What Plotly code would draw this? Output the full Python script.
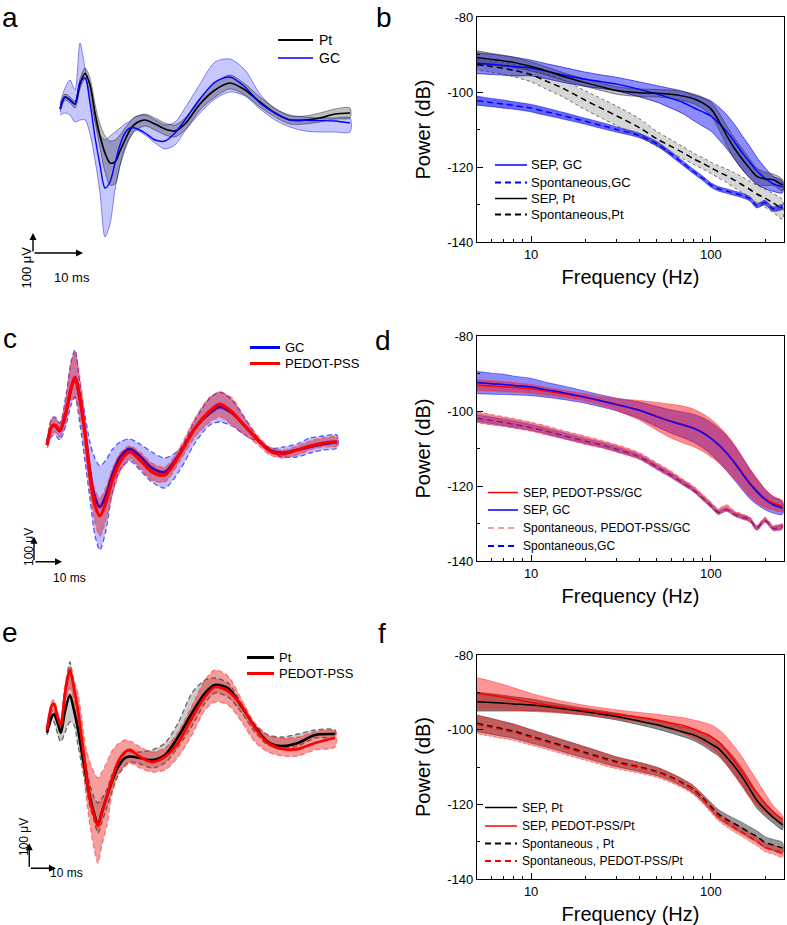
import math
import plotly.graph_objects as go

W, H = 787, 925
FONT = "Liberation Sans, Arial, sans-serif"

# ---------------- panel a : SEP waveforms, Pt vs GC (t in ms, v in uV)
t_a = [0, 1, 2, 3, 4, 5, 6, 7, 8, 9, 10, 11, 12, 13, 14, 15, 17, 19, 21, 23, 25, 28, 31, 34,
       37, 40, 43, 46, 49, 52, 55, 58]
pt_a = [0, 60, 45, 25, 125, 178, 120, -20, -135, -220, -270, -265, -210, -155, -105, -75,
        -55, -75, -100, -110, -75, 25, 95, 130, 95, 35, -20, -55, -55, -45, -25, -20]
pt_a_hi = [15, 75, 60, 40, 150, 205, 155, 25, -75, -135, -160, -155, -130, -95, -65, -40,
           -25, -45, -70, -80, -45, 55, 130, 170, 125, 60, 5, -35, -35, -20, 0, 5]
pt_a_lo = [-15, 45, 30, 5, 100, 150, 80, -65, -195, -315, -380, -375, -285, -205, -145, -110,
           -85, -105, -130, -140, -105, -5, 60, 100, 70, 10, -40, -75, -75, -65, -50, -45]
gc_a = [0, 60, 45, 25, 135, 155, 30, -140, -280, -395, -365, -270, -180, -120, -95, -95,
        -120, -155, -160, -120, -55, 50, 135, 160, 110, 30, -20, -55, -57, -58, -60, -70]
gc_a_hi = [28, 105, 145, 95, 330, 205, 55, -55, -130, -155, -135, -115, -95, -75, -60, -40,
           -30, -55, -80, -65, 5, 125, 235, 250, 195, 75, 0, -30, -40, -45, -45, -45]
gc_a_lo = [-30, -20, -30, -65, -55, -55, -125, -255, -420, -640, -575, -405, -280, -190, -140, -105,
           -130, -170, -200, -180, -110, -20, 50, 85, 65, 0, -55, -90, -110, -115, -115, -115]

# ---------------- panel c : GC vs PEDOT-PSS
t_c = [0, 1.8, 2.9, 4.6, 6.8, 8.6, 10, 11.8, 13.6, 15.4, 17.1, 18.9, 21.1, 23.2, 26.1, 29.6,
       33.2, 37.5, 42.1, 47.5, 52.9, 58.2, 61.8, 66.1, 70.7, 75.4, 79.6, 84.3, 89.3, 93.9, 98.6, 103.6]
gc_c = [-8, 68, 68, 48, 120, 216, 260, 172, 40, -116, -216, -256, -208, -132, -56, -24,
        -52, -100, -116, -40, 60, 120, 144, 120, 68, 12, -28, -40, -28, -16, -4, 4]
gc_c_hi = [8, 100, 104, 80, 192, 324, 372, 232, 112, 0, -60, -92, -68, -28, 4, 16,
           -4, -36, -60, -24, 92, 180, 204, 172, 100, 20, -20, -16, -4, 20, 28, 32]
gc_c_lo = [-20, 28, 32, 12, 72, 152, 184, 72, -76, -228, -368, -428, -348, -208, -108, -72,
           -108, -156, -180, -108, 0, 72, 84, 68, 32, 4, -36, -56, -56, -40, -28, -20]
pedot_c = [-8, 68, 72, 52, 124, 220, 264, 180, 40, -136, -248, -292, -236, -156, -76, -36,
           -68, -116, -128, -44, 60, 128, 156, 124, 68, 12, -32, -44, -28, -12, 0, 6]
pedot_c_hi = [12, 100, 100, 80, 180, 324, 364, 260, 92, -76, -188, -220, -176, -108, -40, -12,
              -36, -80, -96, -16, 100, 184, 204, 180, 100, 28, -16, -28, -12, 8, 20, 24]
pedot_c_lo = [-24, 36, 44, 24, 84, 172, 176, 100, -28, -196, -316, -372, -308, -212, -116, -64,
              -100, -148, -156, -72, 24, 84, 104, 72, 32, -8, -48, -60, -48, -28, -16, -12]

# ---------------- panel e : Pt vs PEDOT-PSS
t_e = [0, 1.9, 2.6, 4.1, 5.2, 6.7, 8.6, 10.1, 11.6, 13.1, 14.6, 16.1, 17.6, 19.1, 20.6, 22.5,
       24.3, 26.6, 29.2, 31.1, 34.8, 39.3, 44.2, 49.1, 54.3, 59.2, 62.9, 67.8, 73, 77.9, 82.8,
       88, 94, 100.4, 107.9]
pt_e = [-7, 60, 68, 28, -7, 76, 144, 84, 8, -88, -176, -263, -328, -376, -324, -260, -204,
        -144, -108, -102, -108, -116, -96, -24, 72, 152, 184, 172, 96, 16, -44, -60, -48, -16, -12]
pt_e_hi = [4, 80, 84, 44, 16, 164, 276, 184, 68, -36, -132, -216, -264, -288, -268, -232, -176,
           -124, -92, -83, -84, -76, -48, 32, 152, 204, 212, 192, 108, 24, -16, -24, -12, 4, 4]
pt_e_lo = [-16, 40, 36, -16, -43, -8, 36, 24, -56, -140, -220, -303, -356, -408, -364, -304, -244,
           -180, -140, -124, -132, -148, -128, -64, 20, 112, 152, 136, 72, -4, -56, -68, -60, -28, -24]
pedot_e = [4, 104, 108, 52, 24, 144, 244, 172, 84, -36, -156, -276, -336, -380, -324, -260, -196,
           -124, -84, -76, -103, -124, -103, -48, 52, 137, 176, 160, 100, 12, -48, -72, -72, -48, -28]
pedot_e_hi = [16, 120, 124, 72, 44, 184, 256, 204, 152, 44, -68, -124, -164, -188, -164, -124, -80,
              -52, -36, -40, -63, -84, -68, -4, 100, 204, 244, 220, 124, 32, -16, -28, -24, -3, 1]
pedot_e_lo = [-8, 84, 84, 24, 4, 104, 172, 124, 12, -116, -256, -376, -468, -528, -456, -376, -256,
              -176, -140, -128, -148, -164, -156, -104, -16, 84, 116, 104, 36, -44, -84, -100, -100, -76, -64]

# ---------------- power spectra (dB), mean and s.d.
freq = [5, 6, 7, 8, 10, 12, 15, 20, 25, 30, 40, 50, 60, 70, 80, 90, 100, 110, 122, 135, 150,
        165, 180, 200, 222, 250]

b_sep_gc = [-92.3, -92.6, -92.9, -93.2, -93.6, -94.4, -95.4, -96.6, -97.3, -97.9, -99.3, -100.5,
            -101.7, -102.8, -104.2, -105.3, -106.4, -108.2, -110.5, -113.2, -116.3, -118.8, -121.0,
            -123.0, -124.5, -125.3]
b_sep_gc_sd = [2.8, 2.7, 2.6, 2.5, 2.1, 2.0, 2.0, 1.9, 1.8, 1.8, 2.0, 2.2, 2.6, 3.0, 3.4, 3.8, 4.0,
               4.3, 4.5, 4.6, 4.5, 4.2, 3.6, 2.8, 2.0, 1.6]
b_spont_gc = [-102.3, -102.8, -103.2, -103.6, -104.3, -105.2, -106.3, -107.8, -109.0, -110.0, -111.6,
              -113.8, -116.5, -119.0, -121.2, -123.0, -124.8, -125.8, -126.4, -127.0, -127.6, -128.5,
              -130.3, -129.5, -131.2, -130.6]
b_spont_gc_sd = [1.2, 1.1, 1.1, 1.0, 1.0, 1.0, 0.9, 0.8, 0.8, 0.7, 0.6, 0.6, 0.6, 0.6, 0.6, 0.6, 0.6,
                 0.6, 0.6, 0.6, 0.6, 0.6, 0.6, 0.6, 0.6, 0.6]
b_sep_pt = [-90.8, -91.3, -91.7, -92.1, -93.2, -94.3, -95.8, -97.5, -98.7, -99.6, -100.2, -100.3,
            -100.6, -101.1, -101.8, -102.9, -104.5, -107.5, -111.5, -115.0, -118.0, -120.5, -122.5,
            -123.2, -123.4, -124.8]
b_sep_pt_sd = [1.8, 1.6, 1.5, 1.4, 1.2, 1.1, 1.0, 1.0, 1.0, 1.0, 1.0, 1.0, 1.1, 1.2, 1.3, 1.5, 1.8,
               2.2, 2.6, 2.8, 2.8, 2.5, 2.2, 1.8, 1.5, 1.5]
b_spont_pt = [-92.7, -93.2, -93.7, -94.2, -95.4, -97.0, -99.0, -102.2, -104.5, -106.4, -109.5, -112.5,
              -114.5, -116.2, -117.8, -119.0, -120.2, -121.3, -122.3, -123.5, -124.8, -126.0, -127.2,
              -128.3, -129.6, -131.3]
b_spont_pt_sd = [1.5, 1.5, 1.6, 1.7, 1.9, 2.1, 2.3, 2.5, 2.6, 2.6, 2.4, 2.0, 1.8, 1.6, 1.5, 1.5, 1.5,
                 1.6, 1.8, 2.0, 2.1, 2.2, 2.3, 2.4, 2.5, 2.6]

d_sep_pedot = [-93.1, -93.3, -93.5, -93.7, -94.1, -94.7, -95.4, -96.4, -97.4, -98.3, -99.8, -101.4,
               -102.7, -103.6, -104.5, -105.7, -107.2, -108.8, -111.0, -113.5, -116.5, -119.2, -121.2,
               -123.3, -124.6, -125.4]
d_sep_pedot_sd = [1.5, 1.4, 1.4, 1.3, 1.2, 1.1, 1.0, 1.0, 1.2, 1.6, 2.6, 3.7, 4.5, 4.9, 5.0, 5.0, 5.0,
                  4.9, 4.8, 4.6, 4.2, 3.8, 3.3, 2.5, 1.8, 1.5]
d_sep_gc = [-92.4, -92.7, -92.9, -93.2, -93.6, -94.3, -95.1, -96.3, -97.4, -98.3, -99.8, -101.5,
            -102.8, -103.7, -104.6, -105.8, -107.3, -109.0, -111.2, -113.8, -116.8, -119.5, -121.5,
            -123.6, -125.0, -125.9]
d_sep_gc_sd = [3.0, 2.8, 2.7, 2.5, 2.3, 2.0, 1.8, 1.6, 1.6, 1.7, 2.2, 2.7, 3.1, 3.4, 3.7, 4.0, 4.2,
               4.5, 4.7, 4.6, 4.3, 3.9, 3.4, 2.7, 2.2, 1.7]
d_spont_pedot = [-101.7, -102.3, -102.8, -103.3, -104.2, -105.1, -106.3, -107.8, -108.9, -110.0,
                 -112.0, -114.7, -116.9, -119.0, -120.8, -123.0, -125.0, -126.8, -125.8, -127.3,
                 -128.2, -129.0, -131.2, -129.0, -131.2, -130.8]
d_spont_pedot_sd = [1.4, 1.4, 1.3, 1.3, 1.2, 1.2, 1.1, 1.1, 1.0, 1.0, 0.9, 0.9, 0.9, 0.8, 0.8, 0.8,
                    0.8, 0.8, 0.8, 0.7, 0.7, 0.7, 0.7, 0.7, 0.7, 0.7]
d_spont_gc = [-101.9, -102.5, -103.0, -103.5, -104.4, -105.3, -106.5, -108.0, -109.1, -110.2, -112.2,
              -114.9, -117.1, -119.2, -121.0, -123.2, -125.2, -127.0, -126.3, -127.5, -128.3, -129.0,
              -131.2, -129.2, -131.3, -130.8]
d_spont_gc_sd = [0.9, 0.9, 0.9, 0.9, 0.8, 0.8, 0.8, 0.7, 0.7, 0.7, 0.6, 0.6, 0.6, 0.6, 0.5, 0.5, 0.5,
                 0.5, 0.5, 0.5, 0.5, 0.5, 0.5, 0.5, 0.5, 0.5]

f_sep_pt = [-92.5, -92.7, -92.9, -93.1, -93.4, -93.8, -94.4, -95.2, -95.9, -96.5, -97.7, -98.7, -99.7,
            -100.6, -101.4, -102.5, -103.8, -105.0, -107.3, -109.8, -112.8, -116.0, -118.9, -121.4,
            -123.5, -125.5]
f_sep_pt_sd = [2.5, 2.3, 2.1, 1.9, 1.6, 1.3, 1.1, 0.9, 0.9, 0.9, 1.0, 1.1, 1.2, 1.3, 1.5, 1.7, 1.9,
               2.0, 2.1, 2.2, 2.2, 2.2, 2.1, 1.8, 1.5, 1.3]
f_sep_pedot = [-90.3, -90.8, -91.3, -91.8, -92.7, -93.3, -94.0, -94.8, -95.4, -95.9, -96.7, -97.4,
               -98.2, -98.9, -99.8, -100.8, -101.8, -103.3, -105.6, -108.4, -111.5, -114.5, -116.9,
               -119.7, -122.0, -124.1]
f_sep_pedot_sd = [4.2, 3.8, 3.4, 3.0, 2.4, 2.0, 1.6, 1.3, 1.2, 1.2, 1.3, 1.5, 1.8, 2.1, 2.4, 2.8, 3.1,
                  3.4, 3.7, 3.9, 4.0, 3.8, 3.4, 2.6, 1.7, 1.0]
f_spont_pt = [-98.3, -99.1, -99.8, -100.4, -101.8, -102.9, -104.3, -106.1, -107.5, -108.6, -110.0,
              -111.2, -112.7, -114.3, -116.0, -118.3, -120.6, -122.6, -124.0, -125.2, -126.4, -127.6,
              -128.6, -130.2, -130.9, -131.7]
f_spont_pt_sd = [2.2, 2.1, 2.0, 1.9, 1.8, 1.7, 1.6, 1.5, 1.4, 1.3, 1.2, 1.1, 1.0, 1.0, 1.0, 1.0, 1.1,
                 1.2, 1.3, 1.4, 1.5, 1.5, 1.5, 1.5, 1.5, 1.5]
f_spont_pedot = [-98.6, -99.4, -100.1, -100.7, -102.1, -103.2, -104.6, -106.4, -107.8, -108.9, -110.2,
                 -111.4, -112.9, -114.5, -116.2, -118.6, -121.0, -123.2, -124.8, -126.2, -127.5, -128.8,
                 -129.9, -131.5, -132.2, -133.0]
f_spont_pedot_sd = [2.5, 2.4, 2.3, 2.2, 2.1, 2.0, 1.9, 1.8, 1.7, 1.6, 1.5, 1.4, 1.3, 1.2, 1.2, 1.2,
                    1.2, 1.2, 1.2, 1.2, 1.2, 1.2, 1.2, 1.2, 1.2, 1.2]

fig = go.Figure()


def ax_names(n):
    return ("x", "y") if n == 1 else (f"x{n}", f"y{n}")


def add_band(x, hi, lo, n, fill, edge, width=0.8, dash="solid"):
    xa, ya = ax_names(n)
    fig.add_trace(go.Scatter(
        x=list(x) + list(x)[::-1], y=list(hi) + list(lo)[::-1],
        xaxis=xa, yaxis=ya, mode="lines", fill="toself", fillcolor=fill,
        line=dict(color=edge, width=width, dash=dash, shape="spline", smoothing=0.8),
        showlegend=False, hoverinfo="skip"))


def add_sd_band(x, mean, sd, n, fill, edge, width=0.8, dash="solid"):
    hi = [m + s for m, s in zip(mean, sd)]
    lo = [m - s for m, s in zip(mean, sd)]
    add_band(x, hi, lo, n, fill, edge, width, dash)


def add_line(x, y, n, name, color, width, dash="solid"):
    xa, ya = ax_names(n)
    fig.add_trace(go.Scatter(
        x=x, y=y, xaxis=xa, yaxis=ya, mode="lines", name=name, showlegend=False,
        line=dict(color=color, width=width, dash=dash, shape="spline", smoothing=0.8),
        hoverinfo="skip"))


DASH = "6px,4px"

# panel a
add_band(t_a, gc_a_hi, gc_a_lo, 1, "rgba(0,0,255,0.22)", "rgba(0,0,200,0.55)", 0.8)
add_band(t_a, pt_a_hi, pt_a_lo, 1, "rgba(0,0,0,0.25)", "rgba(0,0,0,0.5)", 0.8)
add_line(t_a, pt_a, 1, "Pt", "black", 1.7)
add_line(t_a, gc_a, 1, "GC", "#0000ff", 1.4)

# panel b
add_sd_band(freq, b_sep_gc, b_sep_gc_sd, 2, "rgba(0,0,255,0.45)", "rgba(0,0,200,0.8)", 0.8)
add_sd_band(freq, b_spont_gc, b_spont_gc_sd, 2, "rgba(0,0,255,0.6)", "rgba(0,0,200,0.8)", 0.6)
add_sd_band(freq, b_sep_pt, b_sep_pt_sd, 2, "rgba(0,0,0,0.25)", "rgba(60,60,60,0.8)", 0.8)
add_sd_band(freq, b_spont_pt, b_spont_pt_sd, 2, "rgba(0,0,0,0.16)", "rgba(60,60,60,0.8)", 0.9, "dot")
add_line(freq, b_sep_gc, 2, "SEP, GC", "#0000ff", 1.5)
add_line(freq, b_spont_gc, 2, "Spontaneous,GC", "#0000ff", 1.5, DASH)
add_line(freq, b_sep_pt, 2, "SEP, Pt", "black", 1.5)
add_line(freq, b_spont_pt, 2, "Spontaneous,Pt", "black", 1.5, DASH)

# panel c
add_band(t_c, gc_c_hi, gc_c_lo, 3, "rgba(0,0,255,0.25)", "rgba(40,40,255,0.75)", 1.3, "5px,3px")
add_line(t_c, gc_c, 3, "GC", "#0000ff", 2.8)
add_band(t_c, pedot_c_hi, pedot_c_lo, 3, "rgba(220,0,0,0.38)", "rgba(255,60,60,0.6)", 1.3, "5px,3px")
add_line(t_c, pedot_c, 3, "PEDOT-PSS", "#ff0000", 3.2)

# panel d
add_sd_band(freq, d_sep_gc, d_sep_gc_sd, 4, "rgba(0,0,255,0.45)", "rgba(0,0,220,0.6)", 0.8)
add_sd_band(freq, d_sep_pedot, d_sep_pedot_sd, 4, "rgba(255,0,0,0.45)", "rgba(255,60,60,0.7)", 0.8)
add_sd_band(freq, d_spont_gc, d_spont_gc_sd, 4, "rgba(0,0,255,0.45)", "rgba(0,0,220,0.5)", 0.6)
add_line(freq, d_spont_pedot, 4, "Spontaneous, PEDOT-PSS/GC", "#f4a0a0", 1.5, DASH)
add_line(freq, d_spont_gc, 4, "Spontaneous,GC", "#1010d0", 1.5, DASH)
add_sd_band(freq, d_spont_pedot, d_spont_pedot_sd, 4, "rgba(230,30,60,0.55)", "rgba(255,90,90,0.8)", 1.0, "4px,3px")
add_line(freq, d_sep_pedot, 4, "SEP, PEDOT-PSS/GC", "#ff0000", 1.5)
add_line(freq, d_sep_gc, 4, "SEP, GC", "#0000ff", 1.5)

# panel e
add_band(t_e, pt_e_hi, pt_e_lo, 5, "rgba(0,0,0,0.2)", "rgba(60,60,60,0.75)", 1.3, "5px,3px")
add_band(t_e, pedot_e_hi, pedot_e_lo, 5, "rgba(230,0,0,0.38)", "rgba(255,60,60,0.6)", 1.3, "5px,3px")
add_line(t_e, pt_e, 5, "Pt", "black", 2.6)
add_line(t_e, pedot_e, 5, "PEDOT-PSS", "#ff0000", 2.8)

# panel f
add_sd_band(freq, f_sep_pt, f_sep_pt_sd, 6, "rgba(0,0,0,0.45)", "rgba(40,40,40,0.7)", 0.8)
add_sd_band(freq, f_sep_pedot, f_sep_pedot_sd, 6, "rgba(255,0,0,0.42)", "rgba(255,60,60,0.7)", 0.8)
add_sd_band(freq, f_spont_pt, f_spont_pt_sd, 6, "rgba(0,0,0,0.4)", "rgba(40,40,40,0.6)", 0.8)
add_sd_band(freq, f_spont_pedot, f_spont_pedot_sd, 6, "rgba(255,0,0,0.38)", "rgba(255,60,60,0.7)", 0.8, "3px,2px")
add_line(freq, f_sep_pt, 6, "SEP, Pt", "black", 1.5)
add_line(freq, f_sep_pedot, 6, "SEP, PEDOT-PSS/Pt", "#ff0000", 1.5)
add_line(freq, f_spont_pt, 6, "Spontaneous , Pt", "black", 1.5, DASH)
add_line(freq, f_spont_pedot, 6, "Spontaneous, PEDOT-PSS/Pt", "#ff0000", 1.5, DASH)


def px_x(p):
    return p / W


def px_y(p):
    return 1 - p / H


layout = dict(
    width=W, height=H, margin=dict(l=0, r=0, t=0, b=0, autoexpand=False),
    paper_bgcolor="white", plot_bgcolor="white",
    font=dict(family=FONT, color="black"), showlegend=False,
)

# waveform panels (no axes, scale bars instead)
wave = {1: ((20, 370), (30, 280), [-8, 62], [-855, 395]),
        3: ((20, 370), (330, 590), [-9.64, 115.4], [-588, 452]),
        5: ((20, 370), (640, 900), [-10.1, 121], [-676, 364])}
for n, ((xl, xr_), (yt, yb), xr, yr) in wave.items():
    xk = "xaxis" if n == 1 else f"xaxis{n}"
    yk = "yaxis" if n == 1 else f"yaxis{n}"
    xa, ya = ax_names(n)
    layout[xk] = dict(domain=[px_x(xl), px_x(xr_)], range=xr, visible=False, anchor=ya)
    layout[yk] = dict(domain=[px_y(yb), px_y(yt)], range=yr, visible=False, anchor=xa)

# spectrum panels
spec = {2: (17, 242), 4: (336, 561), 6: (655, 879)}
for n, (top, bottom) in spec.items():
    xa, ya = ax_names(n)
    layout[f"xaxis{n}"] = dict(
        domain=[px_x(477), px_x(784)], anchor=ya, type="log",
        range=[math.log10(5), math.log10(255)],
        tickvals=[10, 100], ticktext=["10", "100"],
        ticks="inside", ticklen=6, tickwidth=1, tickcolor="black",
        minor=dict(tickvals=[6, 7, 8, 9, 20, 30, 40, 50, 60, 70, 80, 90, 200],
                   ticks="inside", ticklen=3, tickcolor="black", showgrid=False),
        showline=True, linecolor="black", linewidth=1.2, mirror=True,
        showgrid=False, zeroline=False, tickfont=dict(size=13),
        title=dict(text="Frequency (Hz)", font=dict(size=20), standoff=9))
    layout[f"yaxis{n}"] = dict(
        domain=[px_y(bottom), px_y(top)], anchor=xa, range=[-140, -80],
        tickvals=[-140, -120, -100, -80], ticktext=["-140", "-120", "-100", "-80"],
        ticks="inside", ticklen=6, tickwidth=1, tickcolor="black",
        minor=dict(tickvals=[-130, -110, -90], ticks="inside", ticklen=3,
                   tickcolor="black", showgrid=False),
        showline=True, linecolor="black", linewidth=1.2, mirror=True,
        showgrid=False, zeroline=False, tickfont=dict(size=13),
        title=dict(text="Power (dB)", font=dict(size=20), standoff=11))

fig.update_layout(**layout)

annotations = []
shapes = []

# legends: (label, row y, colour, width, dash)
legends = [
    ((278, 313, 317, 14), [("Pt", 40, "black", 2.0, "solid"), ("GC", 58, "#0000ff", 1.6, "solid")]),
    ((495, 527, 529, 13), [("SEP, GC", 165, "#0000ff", 1.5, "solid"),
                           ("Spontaneous,GC", 182.5, "#0000ff", 2.0, DASH),
                           ("SEP, Pt", 198.5, "black", 1.5, "solid"),
                           ("Spontaneous,Pt", 214.5, "black", 2.0, DASH)]),
    ((250, 280, 283, 13), [("GC", 347.5, "#0000ff", 3.0, "solid"),
                           ("PEDOT-PSS", 363.5, "#ff0000", 3.0, "solid")]),
    ((488, 518, 521, 12), [("SEP, PEDOT-PSS/GC", 492.5, "#ff0000", 1.5, "solid"),
                           ("SEP, GC", 510, "#0000ff", 1.5, "solid"),
                           ("Spontaneous, PEDOT-PSS/GC", 528, "#f4a0a0", 2.0, DASH),
                           ("Spontaneous,GC", 546, "#0000ff", 2.0, DASH)]),
    ((247, 274, 277, 13), [("Pt", 657.5, "black", 3.0, "solid"),
                           ("PEDOT-PSS", 673.5, "#ff0000", 3.0, "solid")]),
    ((485, 517, 520, 12), [("SEP, Pt", 807.5, "black", 1.5, "solid"),
                           ("SEP, PEDOT-PSS/Pt", 826, "#ff0000", 1.5, "solid"),
                           ("Spontaneous , Pt", 843.5, "black", 2.0, DASH),
                           ("Spontaneous, PEDOT-PSS/Pt", 861, "#ff0000", 2.0, DASH)]),
]
for (x0, x1, xt, size), rows in legends:
    for label, y, color, width, dash in rows:
        shapes.append(dict(type="line", xref="paper", yref="paper",
                           x0=px_x(x0), x1=px_x(x1), y0=px_y(y), y1=px_y(y),
                           line=dict(color=color, width=width, dash=dash)))
        annotations.append(dict(text=label, x=px_x(xt), y=px_y(y), xref="paper", yref="paper",
                                xanchor="left", yanchor="middle", showarrow=False,
                                font=dict(size=size)))

# panel letters
for letter, x, y, anchor in [("a", 10, 0, "top"), ("b", 384, 0, "top"), ("c", 10, 338, "middle"),
                             ("d", 383, 340, "middle"), ("e", 10, 632, "middle"),
                             ("f", 382, 633, "middle")]:
    annotations.append(dict(text=letter, x=px_x(x), y=px_y(y), xref="paper", yref="paper",
                            showarrow=False, font=dict(size=28), xanchor="center", yanchor=anchor))

# scale bars: 10 ms and 100 uV arrows in data units
scale_bars = {1: (-5.4, -720), 3: (-4.64, -475), 5: (-6.63, -549)}
for n, (t0, v0) in scale_bars.items():
    xa, ya = ax_names(n)
    for (x1, y1) in [(t0, v0 + 100), (t0 + 10, v0)]:
        annotations.append(dict(x=x1, y=y1, ax=t0, ay=v0, xref=xa, yref=ya, axref=xa, ayref=ya,
                                text="", showarrow=True, arrowhead=2, arrowsize=1,
                                arrowwidth=1.4, arrowcolor="black", standoff=0))

for (tx, ty, size) in [((16, 245), (52, 268), 13), ((20, 547), (51, 578), 12), ((15, 858), (48, 882), 12)]:
    annotations.append(dict(text="100 \u03bcV", x=px_x(tx[0]), y=px_y(tx[1]), xref="paper", yref="paper",
                            showarrow=False, textangle=-90, font=dict(size=size)))
    annotations.append(dict(text="10 ms", x=px_x(ty[0]), y=px_y(ty[1]), xref="paper", yref="paper",
                            showarrow=False, font=dict(size=size)))

fig.update_layout(annotations=annotations, shapes=shapes)

# the page body keeps an 8px default margin; drop it so the figure fills the window
fig.write_html("out.html", config={"displayModeBar": False},
               post_script="document.body.style.margin='0';")
